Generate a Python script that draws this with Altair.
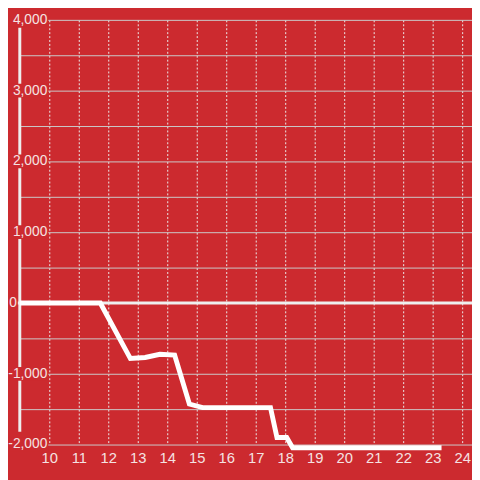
import altair as alt
import pandas as pd

# data
hours = [9.0, 11.73, 12.75, 13.25, 13.75, 14.25, 14.75, 15.2, 17.5, 17.72, 18.05, 18.25, 23.3]
values = [0, 0, -785, -770, -725, -735, -1428, -1478, -1478, -1900, -1900, -2045, -2045]
x_ticks = list(range(10, 25))
y_grid = list(range(-2000, 4001, 500))
y_labels = [-2000, -1000, 0, 1000, 2000, 3000, 4000]

BG = "#cc2a2f"
TXT = "#f5e2e2"
FONT = "Liberation Sans"

line_df = pd.DataFrame({"x": hours, "y": values})
lab_df = pd.DataFrame({"v": y_labels})
grid_df = pd.DataFrame({"v": y_grid})

xs = alt.Scale(domain=[9, 24.333], nice=False, zero=False, padding=0)
ys = alt.Scale(domain=[-2000, 4000], nice=False, padding=0)

hgrid = alt.Chart(grid_df).mark_rule(color="#cbcbcb", strokeWidth=1, yOffset=0.5).encode(
    y=alt.Y("v:Q", scale=ys, axis=None),
)

axis_bar = alt.Chart(pd.DataFrame({"v": [0]})).mark_rule(color="#eeeeee", strokeWidth=3).encode(
    x=alt.value(0), y=alt.value(8), y2=alt.value(419),
)

boxes = alt.Chart(lab_df).transform_filter("datum.v != 0").mark_tick(
    orient="horizontal", size=41, thickness=14, color=BG, opacity=1
).encode(
    x=alt.value(8.5),
    y=alt.Y("v:Q", scale=ys, axis=None),
)

labels = alt.Chart(lab_df).transform_filter("datum.v != 0").transform_calculate(
    lbl="replace(format(datum.v, ','), '\u2212', '-')"
).mark_text(align="right", baseline="middle", fontSize=14, font=FONT, color=TXT).encode(
    x=alt.value(28),
    y=alt.Y("v:Q", scale=ys, axis=None),
    text="lbl:N",
)

zero_label = alt.Chart(lab_df).transform_filter("datum.v == 0").transform_calculate(
    lbl="format(datum.v, ',')"
).mark_text(align="right", baseline="middle", fontSize=14, font=FONT, color=TXT).encode(
    x=alt.value(-3),
    y=alt.Y("v:Q", scale=ys, axis=None),
    text="lbl:N",
)

zero_rule = alt.Chart(lab_df).transform_filter("datum.v == 0").mark_rule(
    color="#eeeeee", strokeWidth=3
).encode(
    y=alt.Y("v:Q", scale=ys, axis=None),
    x=alt.value(-2),
    x2=alt.value(460),
)

line = alt.Chart(line_df).mark_line(color="#ffffff", strokeWidth=5).encode(
    x=alt.X("x:Q", scale=xs, axis=alt.Axis(
        values=x_ticks, grid=True, gridDash=[2, 2], gridColor="#ececec", gridWidth=1,
        domain=False, ticks=False, labelFontSize=15, labelColor=TXT, labelFont=FONT,
        labelPadding=6, labelFlush=False, title=None)),
    y=alt.Y("y:Q", scale=ys, axis=None),
)

chart = alt.layer(hgrid, axis_bar, boxes, labels, zero_label, zero_rule, line).properties(
    width=460,
    height=432,
    padding={"left": 12, "top": 8, "right": 0, "bottom": 32},
    autosize=alt.AutoSizeParams(type="none"),
    background=BG,
).configure_view(stroke=None)

chart.save("out.html", embed_options={"renderer": "svg", "actions": False})
